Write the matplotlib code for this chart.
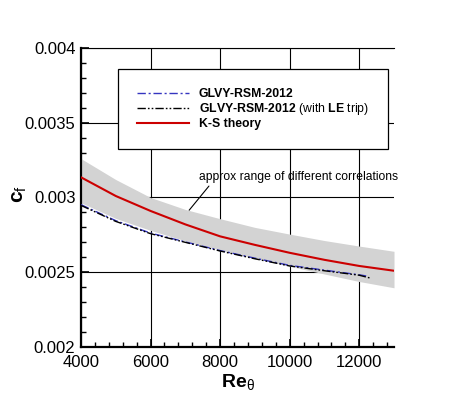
import matplotlib
matplotlib.use("Agg")
import matplotlib.pyplot as plt
from matplotlib.ticker import MultipleLocator, FixedLocator, FixedFormatter

plt.rcParams['font.family'] = ['Liberation Sans', 'DejaVu Sans']
plt.rcParams['mathtext.fontset'] = 'custom'
plt.rcParams['mathtext.rm'] = 'Liberation Sans'
plt.rcParams['mathtext.it'] = 'Liberation Sans'
plt.rcParams['mathtext.bf'] = 'Liberation Sans:bold'

# ---- data ----
re_ks = [4000, 5000, 6000, 7000, 8000, 9000, 10000, 11000, 12000, 13000]
cf_ks = [0.003135, 0.003010, 0.002910, 0.002820, 0.002740, 0.002683, 0.002630, 0.002583, 0.002542, 0.002510]

re_band = [4000, 5000, 6000, 7000, 8000, 9000, 10000, 11000, 12000, 13000]
band_upper = [0.003260, 0.003120, 0.003000, 0.002920, 0.002858, 0.002800, 0.002755, 0.002712, 0.002675, 0.002640]
band_lower = [0.002965, 0.002860, 0.002780, 0.002710, 0.002650, 0.002592, 0.002540, 0.002488, 0.002438, 0.002396]

re_rsm = [4000, 5000, 6000, 7000, 8000, 9000, 10000, 11000, 12000, 12200]
cf_rsm = [0.002952, 0.002845, 0.002762, 0.002703, 0.002645, 0.002594, 0.002546, 0.002514, 0.002483, 0.002475]

re_rsm_le = [4000, 5000, 6000, 7000, 8000, 9000, 10000, 11000, 12000, 12300]
cf_rsm_le = [0.002947, 0.002840, 0.002758, 0.002700, 0.002642, 0.002590, 0.002542, 0.002510, 0.002480, 0.002462]

x_ticks = [4000, 6000, 8000, 10000, 12000]
x_ticklabels = ['4000', '6000', '8000', '10000', '12000']
y_ticks = [0.002, 0.0025, 0.003, 0.0035, 0.004]
y_ticklabels = ['0.002', '0.0025', '0.003', '0.0035', '0.004']

labels = ['GLVY-RSM-2012',
          r'GLVY-RSM-2012$\mathrm{\ (with\ }$LE$\mathrm{\ trip)}$',
          'K-S theory']
annot_text = 'approx range of different correlations'
annot_xy = (7110, 0.002915)
annot_xytext = (7400, 0.003135)

# ---- figure ----
fig = plt.figure(figsize=(4.5, 4.01), dpi=100)
ax = fig.add_axes([0.18, 0.1347, 0.6956, 0.7456])

ax.fill_between(re_band, band_lower, band_upper, color='#d3d3d3', lw=0, zorder=2)
l1, = ax.plot(re_rsm, cf_rsm, color='#3535c0', lw=1.0,
              linestyle=(0, (6, 2, 1.5, 2)), zorder=3)
l2, = ax.plot(re_rsm_le, cf_rsm_le, color='black', lw=1.0,
              linestyle=(0, (6, 1.5, 1.2, 1.5, 1.2, 1.5)), zorder=4)
l3, = ax.plot(re_ks, cf_ks, color='#cc0000', lw=1.5, zorder=5)

ax.set_xlim(4000, 13000)
ax.set_ylim(0.002, 0.004)

ax.xaxis.set_major_locator(FixedLocator(x_ticks))
ax.xaxis.set_major_formatter(FixedFormatter(x_ticklabels))
ax.yaxis.set_major_locator(FixedLocator(y_ticks))
ax.yaxis.set_major_formatter(FixedFormatter(y_ticklabels))
ax.xaxis.set_minor_locator(MultipleLocator(400))
ax.yaxis.set_minor_locator(MultipleLocator(0.0001))

ax.tick_params(which='both', direction='in', top=False, right=False,
               labelsize=12, width=1.2)
ax.tick_params(which='major', length=6)
ax.tick_params(which='minor', length=3.5, width=1.0)
ax.tick_params(axis='x', pad=6)
ax.tick_params(axis='y', pad=4)

ax.grid(True, which='major', color='black', lw=0.8)
ax.set_axisbelow(True)

ax.spines['left'].set_linewidth(1.6)
ax.spines['bottom'].set_linewidth(1.6)
ax.spines['top'].set_linewidth(0.8)
ax.spines['right'].set_visible(False)

ax.set_xlabel(r'$\mathbf{Re}_{\theta}$', fontsize=14, labelpad=1)
ax.set_ylabel(r'$\mathbf{c}_{f}$', fontsize=15)
ax.yaxis.set_label_coords(-0.165, 0.51)

leg = ax.legend([l1, l2, l3], labels, loc='upper left',
                bbox_to_anchor=(0.118, 0.930), borderaxespad=0,
                prop={'size': 8.8, 'weight': 'bold'}, frameon=True,
                fancybox=False, framealpha=1, edgecolor='black',
                borderpad=1.55, handlelength=4.3, handletextpad=0.75,
                labelspacing=0.1)
leg.get_frame().set_linewidth(0.9)
leg.set_zorder(10)

ax.annotate(annot_text, xy=annot_xy, xytext=annot_xytext,
            fontsize=8.7, ha='left', va='center', annotation_clip=False,
            arrowprops=dict(arrowstyle='-', color='black', lw=0.8,
                            shrinkA=0, shrinkB=0, relpos=(0.06, 0.0)),
            zorder=6)

fig.savefig('out.png', dpi=100)
